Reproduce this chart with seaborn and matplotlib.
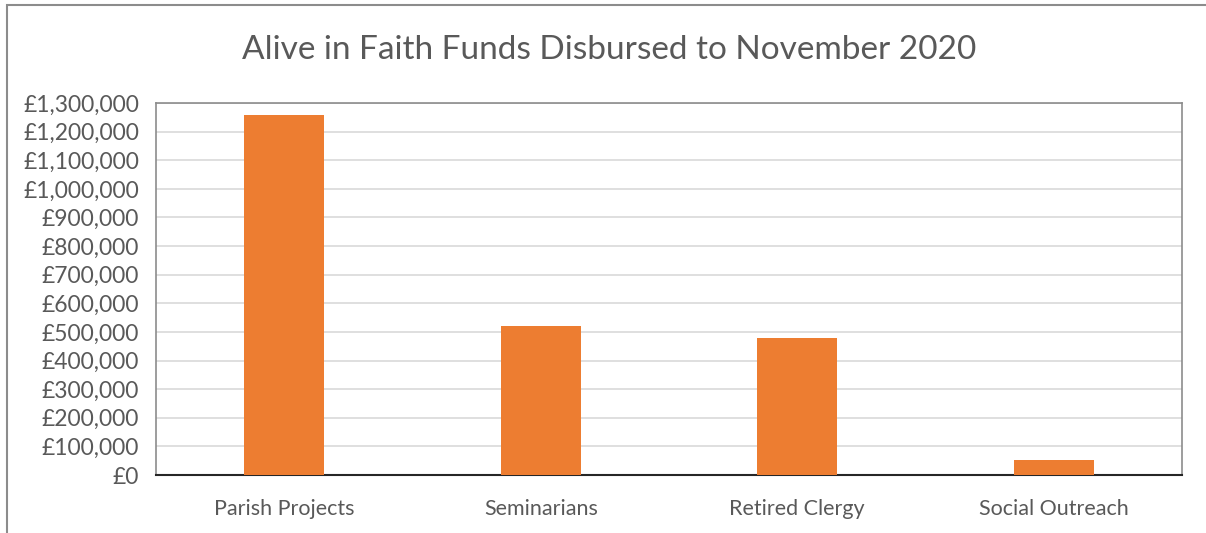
import matplotlib
matplotlib.use("Agg")
import matplotlib.pyplot as plt
import matplotlib.ticker as mticker
from matplotlib.patches import Rectangle
import seaborn as sns
import pandas as pd

# chart data
categories = ["Parish Projects", "Seminarians", "Retired Clergy", "Social Outreach"]
amounts = [1258000, 520000, 478000, 53000]
title = "Alive in Faith Funds Disbursed to November 2020"

df = pd.DataFrame({"category": categories, "amount": amounts})

sns.set_theme(style="white")
plt.rcParams["font.family"] = ["Lato", "DejaVu Sans"]

text_color = "#595959"
bar_color = "#ED7D31"

fig = plt.figure(figsize=(12.06, 5.33), dpi=100)
ax = fig.add_axes([156 / 1206, 1 - 475 / 533, (1182 - 156) / 1206, (475 - 103) / 533])

sns.barplot(data=df, x="category", y="amount", color=bar_color, width=0.31,
            saturation=1, linewidth=0, ax=ax, zorder=3)

ax.set_ylim(0, 1300000)
ax.yaxis.set_major_locator(mticker.MultipleLocator(100000))
ax.yaxis.set_major_formatter(mticker.FuncFormatter(lambda v, p: f"£{v:,.0f}"))
ax.grid(axis="y", color="#D9D9D9", linewidth=1.2, zorder=0)
ax.set_xlabel("")
ax.set_ylabel("")
ax.tick_params(axis="y", labelsize=16.5, labelcolor=text_color, length=0, pad=12)
ax.tick_params(axis="x", labelsize=15.5, labelcolor=text_color, length=0, pad=17)

for side in ["left", "top", "right"]:
    ax.spines[side].set_color("#8C8C8C")
    ax.spines[side].set_linewidth(1.2)
ax.spines["bottom"].set_color("#262626")
ax.spines["bottom"].set_linewidth(1.5)

fig.suptitle(title, x=609 / 1206, y=1 - 50 / 533, va="center",
             fontsize=24, color=text_color)

# outer chart border (bottom and right edges fall outside the image)
fig.patches.append(Rectangle((7 / 1206, -0.1), 1.2, 1 - 5 / 533 + 0.1,
                             transform=fig.transFigure, fill=False,
                             edgecolor="#8C8C8C", linewidth=1.5))

fig.savefig("out.png", dpi=100)
